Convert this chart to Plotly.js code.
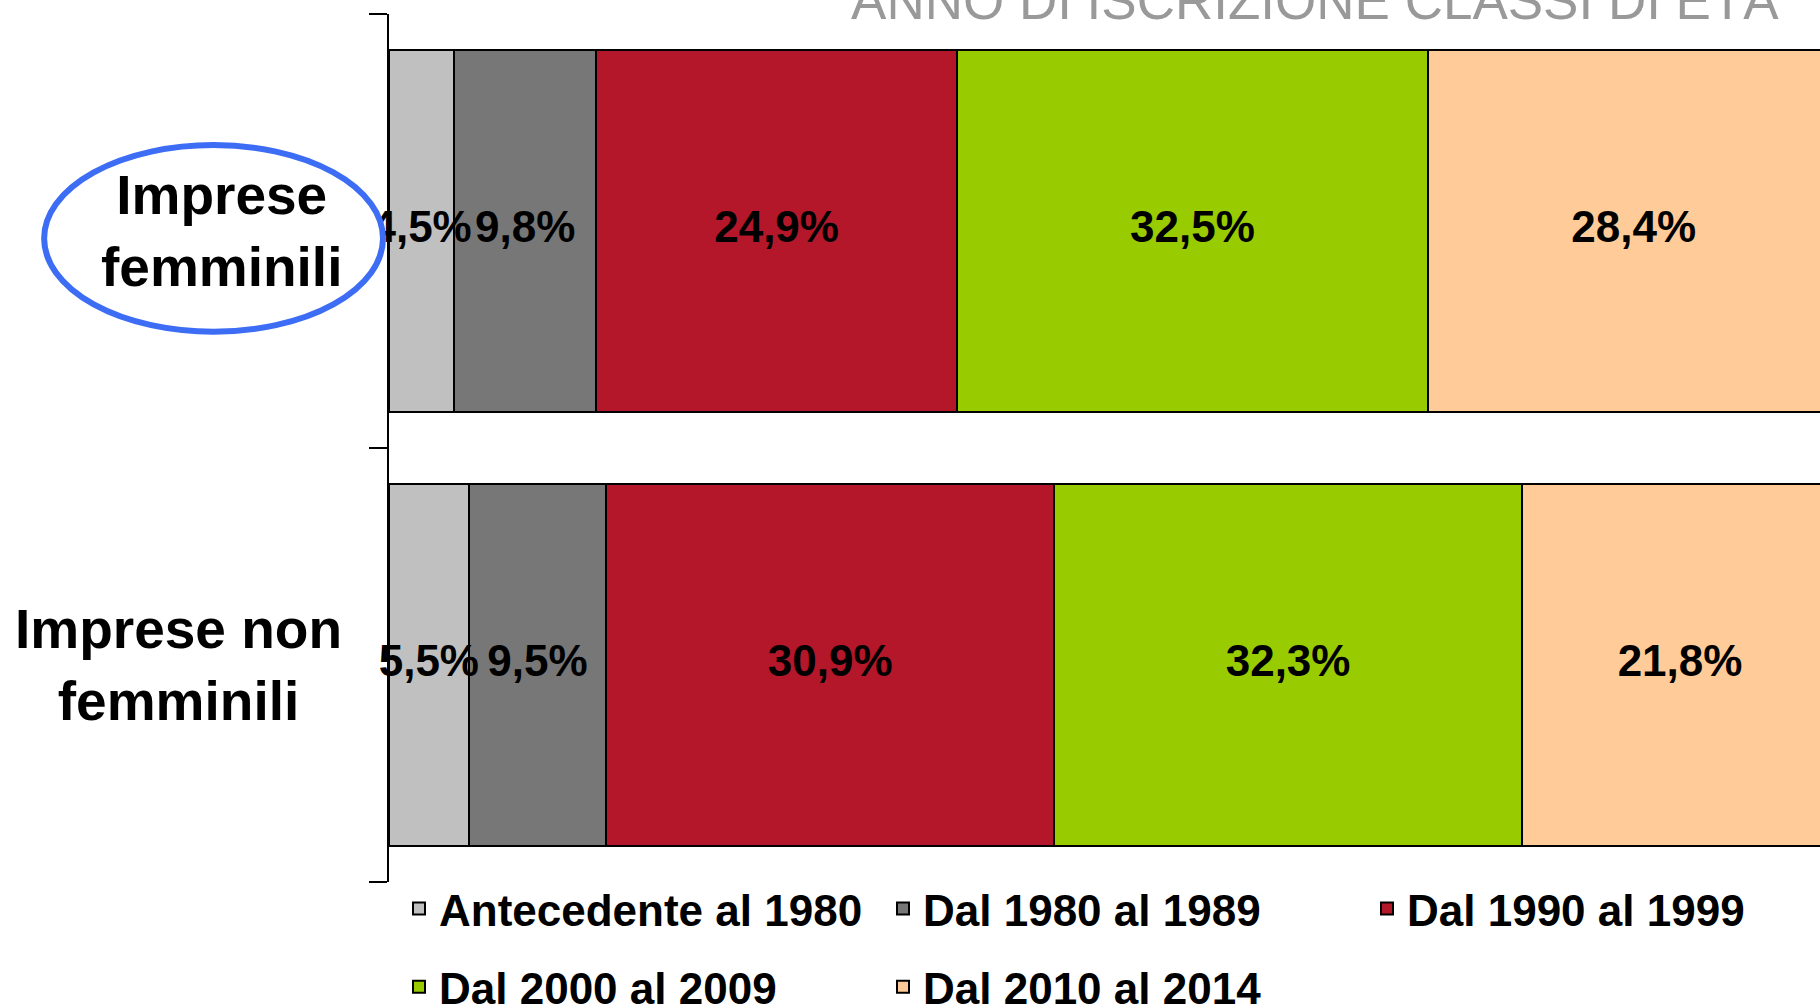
<!DOCTYPE html>
<html>
<head>
<meta charset="utf-8">
<script src="https://cdn.plot.ly/plotly-3.0.1.min.js"></script>
<style>html,body{margin:0;padding:0;background:#fff;overflow:hidden;}#chart{width:1820px;height:1005px;}</style>
</head>
<body>
<div id="chart"></div>
<script>
// ---- data ----
const categories = ['Imprese femminili', 'Imprese non femminili'];
const categoryLabels = ['Imprese<br>femminili', 'Imprese non<br>femminili'];
const seriesNames = ['Antecedente al 1980', 'Dal 1980 al 1989', 'Dal 1990 al 1999', 'Dal 2000 al 2009', 'Dal 2010 al 2014'];
const antecedente1980 = [4.5, 5.5];
const dal1980al1989 = [9.8, 9.5];
const dal1990al1999 = [24.9, 30.9];
const dal2000al2009 = [32.5, 32.3];
const dal2010al2014 = [28.4, 21.8];
const chartTitle = 'ANNO DI ISCRIZIONE CLASSI DI ETÀ';

// ---- styles ----
const seriesColors = ['#C0C0C0', '#777777', '#B31729', '#99CC00', '#FFCC99'];
const seriesLegends = ['legend', 'legend', 'legend', 'legend2', 'legend2'];
const FONT = 'Liberation Sans, Arial, sans-serif';
const allSeries = [antecedente1980, dal1980al1989, dal1990al1999, dal2000al2009, dal2010al2014];

const barTraces = allSeries.map((vals, i) => {
  const t = {
    type: 'bar',
    orientation: 'h',
    name: seriesNames[i],
    y: categories,
    x: vals,
    legend: seriesLegends[i],
    marker: {color: seriesColors[i], line: {color: '#000000', width: 2}},
    hoverinfo: 'name+x'
  };
  if (i === 2) t.legendwidth = 345;
  return t;
});

// value labels: drawn above all bars, centred in each stacked segment
// (placed on an overlaid numeric axis whose positions equal the category indices)
const fmt = v => v.toFixed(1).replace('.', ',') + '%';
const labelX = [], labelY = [], labelText = [];
categories.forEach((cat, j) => {
  let cum = 0;
  allSeries.forEach(vals => {
    labelX.push(cum + vals[j] / 2);
    labelY.push(j);
    labelText.push(fmt(vals[j]));
    cum += vals[j];
  });
});
const labelTrace = {
  type: 'scatter', mode: 'text',
  x: labelX, y: labelY, text: labelText,
  yaxis: 'y2',
  textposition: 'middle center',
  textfont: {family: FONT, size: 44, color: '#000000', weight: 'bold'},
  cliponaxis: false, showlegend: false, hoverinfo: 'skip'
};

const legendCommon = {
  orientation: 'h',
  xref: 'paper', yref: 'paper',
  x: 0.007, xanchor: 'left',
  yanchor: 'middle',
  font: {family: FONT, size: 44, color: '#000000', weight: 'bold'},
  entrywidth: 439, entrywidthmode: 'pixels',
  traceorder: 'normal',
  bgcolor: 'rgba(0,0,0,0)',
  borderwidth: 0
};

const layout = {
  width: 1820, height: 1005,
  paper_bgcolor: '#ffffff', plot_bgcolor: '#ffffff',
  barmode: 'stack',
  bargap: 0.168,
  showlegend: true,
  margin: {l: 389, r: 0, t: 14, b: 123, autoexpand: false},
  font: {family: FONT, color: '#000000'},
  title: {
    text: chartTitle,
    font: {family: FONT, size: 53, color: '#999999'},
    xref: 'container', x: 0.4676, xanchor: 'left',
    yref: 'container', y: 1, yanchor: 'middle'
  },
  xaxis: {range: [0, 98.76], visible: false, showgrid: false, zeroline: false, fixedrange: true},
  yaxis: {
    type: 'category',
    categoryorder: 'array', categoryarray: categories,
    range: [1.5, -0.5],
    showticklabels: false, showline: false, ticks: '',
    showgrid: false, zeroline: false, fixedrange: true
  },
  yaxis2: {
    overlaying: 'y', side: 'left', type: 'linear',
    range: [1.5, -0.5],
    tickmode: 'array', tickvals: [-0.5, 0.5, 1.5],
    showticklabels: false,
    showline: true, linecolor: '#000000', linewidth: 2,
    ticks: 'outside', ticklen: 18, tickwidth: 2, tickcolor: '#000000',
    showgrid: false, zeroline: false, fixedrange: true
  },
  legend: Object.assign({}, legendCommon, {y: -0.031}),
  legend2: Object.assign({}, legendCommon, {y: -0.121}),
  shapes: [{
    type: 'circle', xref: 'paper', yref: 'paper',
    x0: -0.241, x1: -0.0042, y0: 0.634, y1: 0.849,
    line: {color: '#3D6DF5', width: 6},
    fillcolor: '#ffffff',
    layer: 'above'
  }],
  annotations: [
    {xref: 'paper', yref: 'y', x: -0.1174, y: categories[0], text: categoryLabels[0],
     showarrow: false, xanchor: 'center', yanchor: 'middle', align: 'center',
     font: {family: FONT, size: 55, color: '#000000', weight: 'bold'}},
    {xref: 'paper', yref: 'y', x: -0.1474, y: categories[1], text: categoryLabels[1],
     showarrow: false, xanchor: 'center', yanchor: 'middle', align: 'center',
     font: {family: FONT, size: 55, color: '#000000', weight: 'bold'}}
  ]
};

Plotly.newPlot('chart', barTraces.concat([labelTrace]), layout, {displayModeBar: false});
</script>
</body>
</html>
